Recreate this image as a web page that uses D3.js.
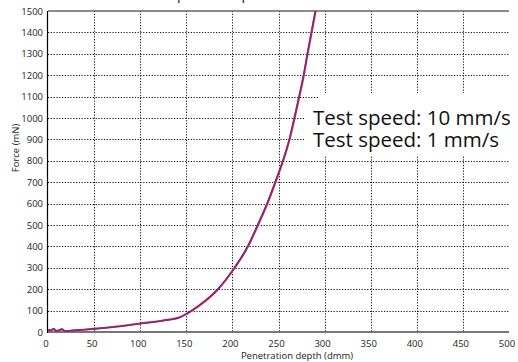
<!DOCTYPE html>
<html>
<head>
<meta charset="utf-8">
<script src="https://cdn.jsdelivr.net/npm/d3@7"></script>
<style>
  body { margin: 0; background: #fff; }
  svg { display: block; font-family: "Open Sans", sans-serif; }
</style>
</head>
<body>
<div id="chart"></div>
<script>
// chart data
var xTicks = [0, 50, 100, 150, 200, 250, 300, 350, 400, 450, 500];
var yTicks = [0, 100, 200, 300, 400, 500, 600, 700, 800, 900, 1000, 1100, 1200, 1300, 1400, 1500];
var seriesNames = ["Test speed: 10 mm/s", "Test speed: 1 mm/s"];
var titleText = "Test speed comparison";

// depth (dmm), force (mN)
var speed10 = [[0, 9], [3, 7], [6, 14], [9, 5], [12, 7], [15, 13], [18, 5], [22, 5], [30, 8], [50, 15],
  [75, 26], [100, 40], [125, 54], [143, 69], [150, 85], [156, 100], [170, 143], [184.5, 200], [202.5, 300],
  [217, 400], [227.8, 500], [238, 600], [246.8, 700], [255, 800], [262, 900],
  [267.5, 1000], [272.6, 1100], [277.5, 1200], [281.6, 1300], [286, 1400], [290.3, 1500]];
var speed1 = [[0, 10], [3, 8], [6, 15], [9, 6], [12, 8], [15, 14], [18, 6], [22, 5], [30, 8], [50, 14],
  [75, 25], [100, 39], [125, 53], [143, 68], [150, 84], [156, 100], [170, 145], [184, 200], [202, 300],
  [216.4, 400], [227.2, 500], [237.4, 600], [246.2, 700], [254.6, 800], [261.6, 900],
  [267, 1000], [272.1, 1100], [277.1, 1200], [281.2, 1300], [285.5, 1400], [289.8, 1500]];

var width = 518, height = 362;
var plotL = 48, plotR = 509, plotT = 11, plotB = 332;

var svg = d3.select("#chart").append("svg")
  .attr("width", width)
  .attr("height", height);

var x = d3.scaleLinear().domain([0, 500]).range([plotL, plotR]);
var y = d3.scaleLinear().domain([0, 1500]).range([plotB, plotT]);

// clipped title, only the descenders show
var title = svg.append("text")
  .attr("font-size", 14)
  .attr("fill", "#111")
  .attr("y", -1.5)
  .attr("x", 0)
  .text(titleText);
var p0 = title.node().getStartPositionOfChar(6).x;
title.attr("x", 177 - p0);

// grid
var grid = svg.append("g")
  .attr("stroke", "#111")
  .attr("stroke-width", 1)
  .attr("stroke-dasharray", "1.2,1.6");
grid.selectAll("line.v")
  .data(xTicks.filter(function (d) { return d > 0 && d < 500; }))
  .enter().append("line")
  .attr("x1", function (d) { return Math.round(x(d)) + 0.5; })
  .attr("x2", function (d) { return Math.round(x(d)) + 0.5; })
  .attr("y1", plotT)
  .attr("y2", plotB);
grid.selectAll("line.h")
  .data(yTicks.filter(function (d) { return d > 0 && d < 1500; }))
  .enter().append("line")
  .attr("x1", plotL)
  .attr("x2", plotR)
  .attr("y1", function (d) { return Math.round(y(d)) + 0.5; })
  .attr("y2", function (d) { return Math.round(y(d)) + 0.5; });

// frame
svg.append("line")
  .attr("x1", plotL).attr("x2", plotR)
  .attr("y1", plotT).attr("y2", plotT)
  .attr("stroke", "#666").attr("stroke-width", 1.5);
svg.append("line")
  .attr("x1", plotL).attr("x2", plotR)
  .attr("y1", plotB).attr("y2", plotB)
  .attr("stroke", "#777").attr("stroke-width", 2);

// curves
svg.append("clipPath").attr("id", "plot")
  .append("rect")
  .attr("x", plotL).attr("y", plotT)
  .attr("width", plotR - plotL).attr("height", plotB - plotT);

var line = d3.line()
  .x(function (d) { return x(d[0]); })
  .y(function (d) { return y(d[1]); })
  .curve(d3.curveMonotoneX);

var curves = svg.append("g").attr("clip-path", "url(#plot)").attr("fill", "none");
curves.append("path")
  .datum(speed10)
  .attr("d", line)
  .attr("stroke", "#c8283a")
  .attr("stroke-width", 2);
curves.append("path")
  .datum(speed1)
  .attr("d", line)
  .attr("stroke", "#7a2a8e")
  .attr("stroke-width", 1.4);

svg.append("line")
  .attr("x1", plotL - 0.5).attr("x2", plotL - 0.5)
  .attr("y1", plotT).attr("y2", plotB + 1)
  .attr("stroke", "#000").attr("stroke-width", 1.2);

// tick labels
svg.append("g")
  .attr("font-size", 9.5)
  .attr("fill", "#222")
  .attr("text-anchor", "end")
  .selectAll("text")
  .data(yTicks)
  .enter().append("text")
  .attr("x", 43)
  .attr("y", function (d) { return y(d) + 3.5; })
  .text(function (d) { return d; });

svg.append("g")
  .attr("font-size", 9.5)
  .attr("fill", "#222")
  .attr("text-anchor", "middle")
  .selectAll("text")
  .data(xTicks)
  .enter().append("text")
  .attr("x", function (d) { return x(d) - 2; })
  .attr("y", 347)
  .text(function (d) { return d; });

// axis titles
svg.append("text")
  .attr("x", 297)
  .attr("y", 359)
  .attr("font-size", 9.5)
  .attr("fill", "#222")
  .attr("text-anchor", "middle")
  .text("Penetration depth (dmm)");

svg.append("text")
  .attr("transform", "translate(19,148) rotate(-90)")
  .attr("font-size", 9.5)
  .attr("fill", "#222")
  .attr("text-anchor", "middle")
  .text("Force (mN)");

// legend, white boxes over the grid
svg.append("rect")
  .attr("x", 318).attr("y", 93)
  .attr("width", width - 318).attr("height", 22)
  .attr("fill", "#fff");
svg.append("rect")
  .attr("x", 305).attr("y", 113)
  .attr("width", width - 305).attr("height", 42)
  .attr("fill", "#fff");

svg.append("g")
  .attr("font-size", 20.5)
  .attr("fill", "#111")
  .selectAll("text")
  .data(seriesNames)
  .enter().append("text")
  .attr("x", 313)
  .attr("y", function (d, i) { return 125 + i * 22; })
  .text(function (d) { return d; });
</script>
</body>
</html>
